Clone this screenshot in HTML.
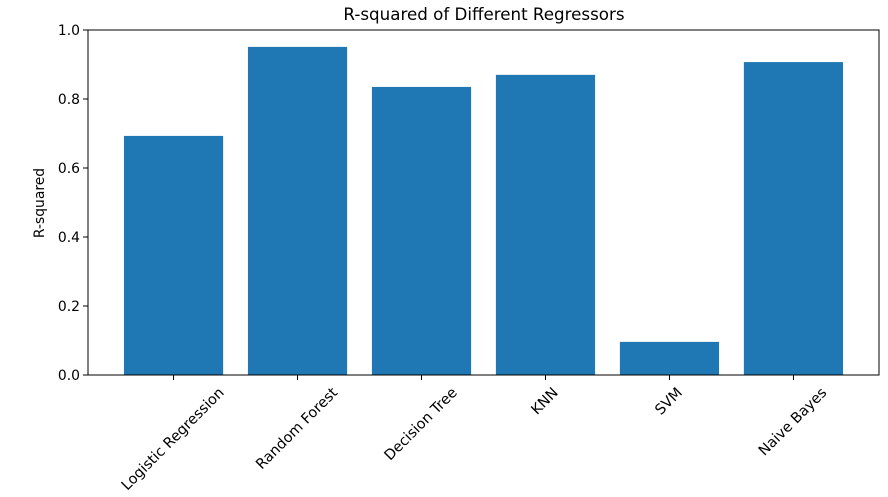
<!DOCTYPE html>
<html><head><meta charset="utf-8"><style>body{margin:0;background:#fff}svg{display:block;font-family:"DejaVu Sans","Liberation Sans",sans-serif}</style></head>
<body>
<svg id="chart" width="888" height="497">
<text x="484" y="20" text-anchor="middle" font-size="16.7" fill="#000">R-squared of Different Regressors</text>
<text transform="translate(44,203) rotate(-90)" text-anchor="middle" font-size="13.9">R-squared</text>
<g id="bars"></g><g id="axes"></g>
</svg>
<script>
const categories=["Logistic Regression","Random Forest","Decision Tree","KNN","SVM","Naive Bayes"];
const values=[0.693,0.951,0.835,0.870,0.096,0.907];
const yTicks=[0,0.2,0.4,0.6,0.8,1.0];
const yTickLabels=["0.0","0.2","0.4","0.6","0.8","1.0"];
const L=88,R=879,T=30,B=375;
const x=i=>L+(i+0.69)/(5.69+0.69)*(R-L);
const y=v=>B-v*(B-T);
const ns="http://www.w3.org/2000/svg";
const bars=document.getElementById('bars'),axes=document.getElementById('axes');
function mk(tag,attrs,parent){const e=document.createElementNS(ns,tag);for(const k in attrs)e.setAttribute(k,attrs[k]);parent.appendChild(e);return e;}
const bw=(x(1)-x(0))*0.8;
values.forEach((v,i)=>{
 const r=mk('rect',{x:x(i)-bw/2,y:y(v),width:bw,height:y(0)-y(v),fill:'#1f77b4'},bars);
 
 
 const t=mk('line',{x1:x(i),x2:x(i),y1:B,y2:B+5,stroke:'#000','stroke-width':1},axes);
 
 
 const lb=mk('text',{'text-anchor':'middle','font-size':14.4,fill:'#000'},axes);
 lb.textContent=categories[i];
 
 
 const w=lb.getComputedTextLength(),h=14;
 const bb=(w+h)*0.7071;
 const cy=B+10+bb/2;
 lb.setAttribute('transform',`translate(${x(i)-1},${cy}) rotate(-45) translate(0,${h*0.35})`);
});
yTicks.forEach((v,i)=>{
 const t=mk('line',{x1:L-5,x2:L,y1:y(v),y2:y(v),stroke:'#000','stroke-width':1},axes);
 
 
 const lb=mk('text',{x:L-8,y:y(v)+5,'text-anchor':'end','font-size':13.9,fill:'#000'},axes);
 lb.textContent=yTickLabels[i];
 
 
});
const f=mk('rect',{x:L,y:T,width:R-L,height:B-T,fill:'none',stroke:'#000','stroke-width':1},axes);


</script>
</body></html>
